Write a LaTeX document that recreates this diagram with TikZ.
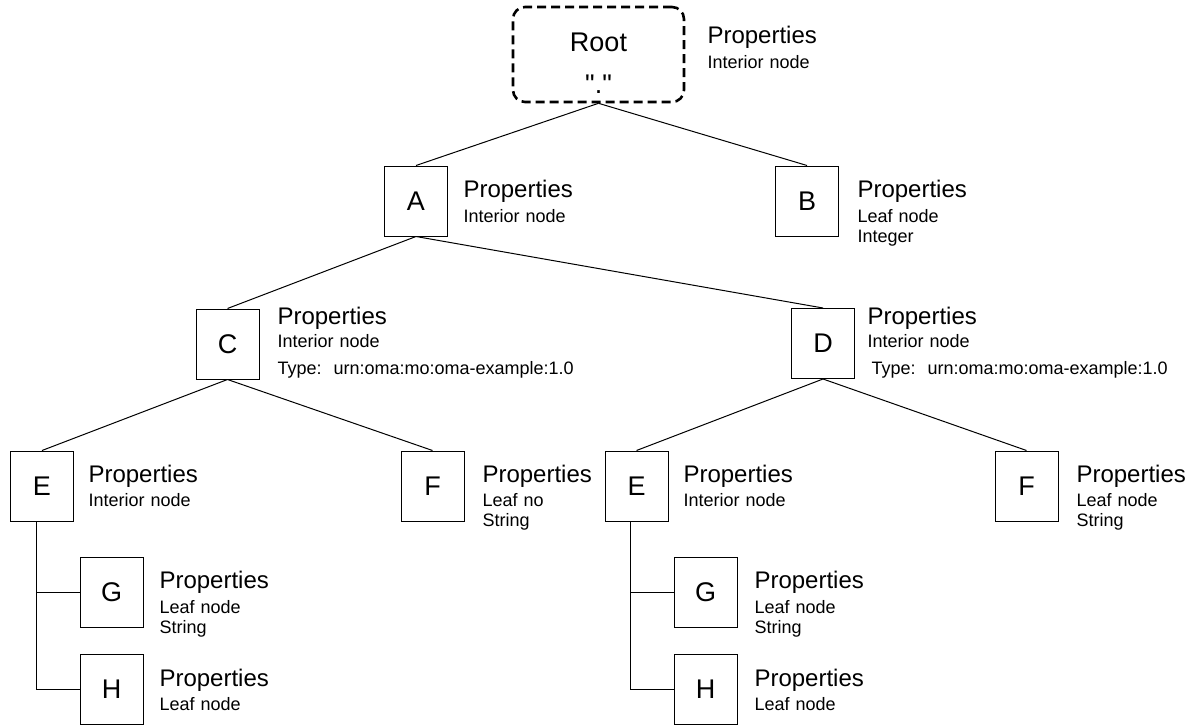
\documentclass[tikz,border=0pt]{standalone}
\usepackage{fontspec}
\setmainfont{Liberation Sans}
\usetikzlibrary{positioning}

\newcommand{\proptitle}{{\fontsize{24}{24}\selectfont Properties}}
\newcommand{\straightquote}{\XeTeXglyph\XeTeXcharglyph"22\relax}

\begin{document}
\begin{tikzpicture}[x=1pt, y=-1pt, line width=1pt,
    treenode/.style={draw, rectangle, minimum width=63pt, minimum height=70pt, inner sep=0pt, font=\fontsize{27}{27}\selectfont},
    rootnode/.style={draw, rectangle, rounded corners=12pt, dash pattern=on 9pt off 5pt, line width=2.6pt, minimum width=171pt, minimum height=95pt, inner sep=0pt, align=center, font=\fontsize{27}{34}\selectfont},
    props/.style={anchor=base west, inner sep=0pt, text width=330pt, align=left, font=\fontsize{18}{19.5}\selectfont}]
    \useasboundingbox (0,0) rectangle (1192,725);

    % the boxes of the tree
    \node[rootnode] at (598.5,54.5) (root) {\rule{0pt}{36pt}Root\\[8pt]\straightquote.\straightquote};
    \node[treenode] at (416,201) (nodeA) {A};
    \node[treenode] at (807,201) (nodeB) {B};
    \node[treenode] at (227.5,344) (nodeC) {C};
    \node[treenode] at (823,343.5) (nodeD) {D};
    \node[treenode] at (42,486) (nodeE1) {E};
    \node[treenode] at (432.5,486) (nodeF1) {F};
    \node[treenode] at (111.5,592) (nodeG1) {G};
    \node[treenode] at (111.5,689.5) (nodeH1) {H};
    \node[treenode] at (636.5,486) (nodeE2) {E};
    \node[treenode] at (1026.5,486) (nodeF2) {F};
    \node[treenode] at (705.5,592) (nodeG2) {G};
    \node[treenode] at (705.5,689.5) (nodeH2) {H};

    % the edges
    \draw (root.south) -- (nodeA.north);
    \draw (root.south) -- (nodeB.north);
    \draw (nodeA.south) -- (nodeC.north);
    \draw (nodeA.south) -- (nodeD.north);
    \draw (nodeC.south) -- (nodeE1.north);
    \draw (nodeC.south) -- (nodeF1.north);
    \draw (nodeD.south) -- (nodeE2.north);
    \draw (nodeD.south) -- (nodeF2.north);
    \draw ([xshift=-6pt]nodeE1.south) |- (nodeH1.west);
    \draw ([xshift=-6pt]nodeE1.south |- nodeG1.west) -- (nodeG1.west);
    \draw ([xshift=-6pt]nodeE2.south) |- (nodeH2.west);
    \draw ([xshift=-6pt]nodeE2.south |- nodeG2.west) -- (nodeG2.west);

    % the properties next to each box
    \node[props] at (707,44) (propRoot) {\proptitle\\[5pt]Interior node};
    \node[props] at (463,197) (propA) {\proptitle\\[6pt]Interior node};
    \node[props] at (857,197) (propB) {\proptitle\\[6pt]Leaf node\\Integer};
    \node[props] at (277,324) (propC) {\proptitle\\[4pt]Interior node\\[7.5pt]Type:\ \ urn:oma:mo:oma-example:1.0};
    \node[props] at (867,324) (propD) {\proptitle\\[4pt]Interior node\\[7.5pt]\hspace*{4pt}Type:\ \ urn:oma:mo:oma-example:1.0};
    \node[props] at (88,482) (propE1) {\proptitle\\[5pt]Interior node};
    \node[props] at (482,482) (propF1) {\proptitle\\[5pt]Leaf no\\String};
    \node[props] at (159,588) (propG1) {\proptitle\\[6pt]Leaf node\\String};
    \node[props] at (159,686) (propH1) {\proptitle\\[5pt]Leaf node};
    \node[props] at (683,482) (propE2) {\proptitle\\[5pt]Interior node};
    \node[props] at (1076,482) (propF2) {\proptitle\\[5pt]Leaf node\\String};
    \node[props] at (754,588) (propG2) {\proptitle\\[6pt]Leaf node\\String};
    \node[props] at (754,686) (propH2) {\proptitle\\[5pt]Leaf node};
\end{tikzpicture}
\end{document}
